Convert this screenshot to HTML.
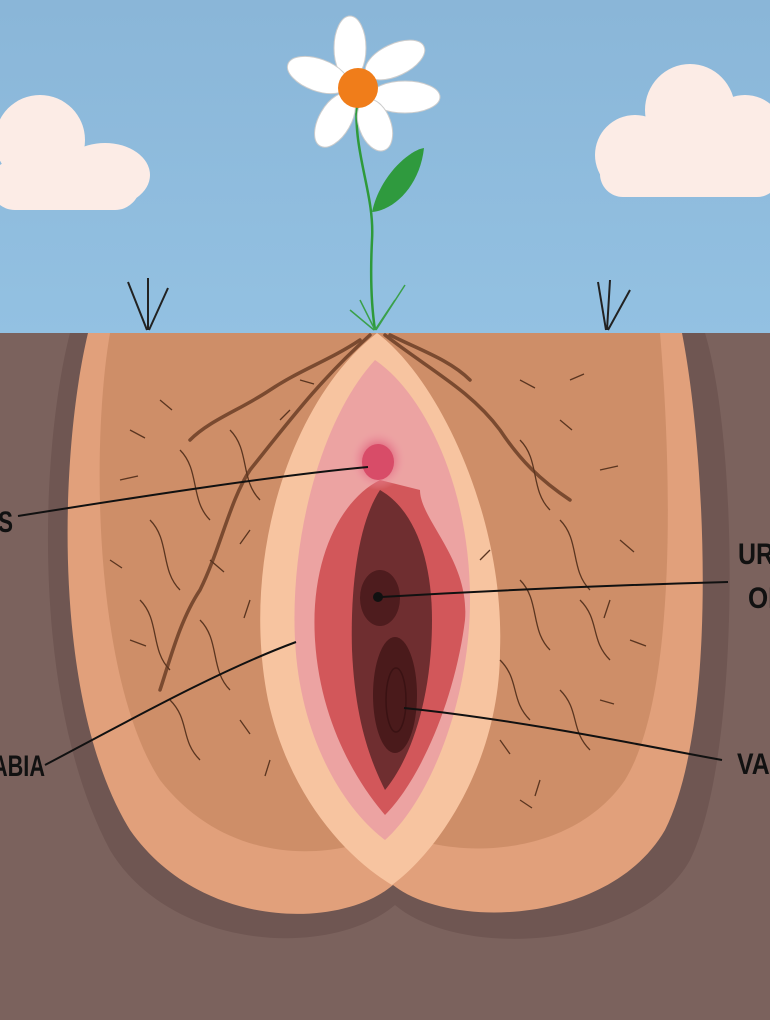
<!DOCTYPE html>
<html><head><meta charset="utf-8"><style>html,body{margin:0;padding:0;width:770px;height:1020px;overflow:hidden}svg{display:block}</style></head><body>
<svg width="770" height="1020" viewBox="0 0 770 1020" xmlns="http://www.w3.org/2000/svg">
<defs>
<linearGradient id="sky" x1="0" y1="0" x2="0" y2="1"><stop offset="0" stop-color="#8ab6d8"/><stop offset="1" stop-color="#93c1e2"/></linearGradient>
<radialGradient id="clit" cx="0.5" cy="0.5" r="0.5"><stop offset="0.4" stop-color="#e0607a"/><stop offset="1" stop-color="#eea0a8" stop-opacity="0"/></radialGradient>
</defs>
<rect width="770" height="335" fill="url(#sky)"/>
<rect y="333" width="770" height="687" fill="#7b625d"/>
<g fill="#fcece6"><ellipse cx="40" cy="140" rx="45" ry="45"/><ellipse cx="105" cy="175" rx="45" ry="32"/><rect x="-10" y="160" width="150" height="50" rx="25"/></g>
<g fill="#fcece6"><ellipse cx="690" cy="110" rx="45" ry="46"/><ellipse cx="635" cy="155" rx="40" ry="40"/><ellipse cx="745" cy="135" rx="40" ry="40"/><rect x="600" y="150" width="180" height="47" rx="23"/></g>
<g stroke="#222" stroke-width="2" fill="none"><path d="M147 330 L128 282 M148 330 L148 278 M149 330 L168 288"/><path d="M606 330 L598 282 M607 330 L610 280 M608 330 L630 290"/></g>
<path d="M70 333 C40 450 30 700 110 850 C170 950 330 960 395 905 C460 960 640 950 690 860 C740 760 740 450 705 333 Z" fill="#6f5652"/>
<path d="M88 333 C60 450 50 700 130 830 C200 930 340 930 393 885 C450 930 610 925 665 830 C720 720 705 450 682 333 Z" fill="#e1a07b"/>
<path d="M110 333 C90 450 95 680 160 780 C230 870 340 860 393 830 C450 860 570 860 625 780 C680 690 670 450 660 333 Z" fill="#c98a64" opacity="0.8"/>
<path d="M377 333 C290 400 240 560 268 700 C290 800 350 860 392 885 C440 850 500 760 500 650 C505 520 440 380 377 333 Z" fill="#f7c4a0"/>
<path d="M375 360 C320 420 290 540 295 640 C300 740 345 810 385 840 C430 800 470 700 470 600 C470 480 420 390 375 360 Z" fill="#eca3a2"/>
<path d="M380 480 C340 500 310 560 315 640 C320 720 355 780 385 815 C420 780 455 700 465 620 C470 560 420 520 420 490 Z" fill="#d2575a"/>
<path d="M380 490 C360 520 350 580 352 650 C355 720 370 760 385 790 C410 760 432 700 432 620 C432 560 415 510 380 490 Z" fill="#6f2e30"/>
<ellipse cx="380" cy="598" rx="20" ry="28" fill="#4e1c1e"/>
<ellipse cx="395" cy="695" rx="22" ry="58" fill="#4a1a1b"/>
<ellipse cx="396" cy="700" rx="10" ry="32" fill="none" stroke="#3a1213" stroke-width="1.5"/>
<circle cx="378" cy="597" r="5" fill="#111"/>
<ellipse cx="378" cy="460" rx="28" ry="30" fill="url(#clit)"/>
<ellipse cx="378" cy="462" rx="16" ry="18" fill="#d84c68"/>
<g stroke="#7a4a30" stroke-width="3.5" fill="none" stroke-linecap="round">
<path d="M370 335 C320 380 290 420 250 470 C230 500 220 550 200 590 C180 620 170 660 160 690"/>
<path d="M360 340 C330 360 300 370 270 390 C240 410 210 420 190 440"/>
<path d="M385 335 C430 370 470 390 500 430 C520 460 540 480 570 500"/>
<path d="M390 335 C420 350 450 360 470 380"/>
</g>
<g stroke="#5a3520" stroke-width="1.3" fill="none">
<path d="M180 450 C200 470 190 500 210 520 M150 520 C170 540 160 570 180 590 M140 600 C160 620 150 650 170 670 M230 430 C250 450 240 480 260 500 M200 620 C220 640 210 670 230 690 M170 700 C190 720 180 740 200 760"/>
<path d="M520 440 C540 460 530 490 550 510 M560 520 C580 540 570 570 590 590 M520 580 C540 600 530 630 550 650 M580 600 C600 620 590 640 610 660 M500 660 C520 680 510 700 530 720 M560 690 C580 710 570 730 590 750"/>
<path d="M130 430 l15 8 M160 400 l12 10 M120 480 l18 -4 M210 560 l14 12 M250 600 l-6 18 M240 720 l10 14 M270 760 l-5 16 M130 640 l16 6 M280 420 l10 -10 M300 380 l14 4 M110 560 l12 8 M250 530 l-10 14"/>
<path d="M520 380 l15 8 M560 420 l12 10 M600 470 l18 -4 M620 540 l14 12 M610 600 l-6 18 M500 740 l10 14 M540 780 l-5 16 M630 640 l16 6 M480 560 l10 -10 M600 700 l14 4 M520 800 l12 8 M570 380 l14 -6"/>
</g>
<path d="M358 90 C350 150 375 190 372 240 C370 280 372 310 375 330" stroke="#2e9a3a" stroke-width="2.5" fill="none"/>
<path d="M372 212 C380 175 410 150 424 148 C420 185 395 210 372 212 Z" fill="#2f9a3e"/>
<g stroke="#3aa04a" stroke-width="1.5" fill="none"><path d="M375 330 L360 300 M375 330 L395 300 M376 330 L405 285 M374 330 L350 310"/></g>
<g fill="#ffffff" stroke="#ccc" stroke-width="1">
<ellipse cx="350" cy="48" rx="16" ry="32"/><ellipse cx="395" cy="60" rx="32" ry="16" transform="rotate(-25 395 60)"/>
<ellipse cx="405" cy="97" rx="35" ry="16"/><ellipse cx="375" cy="125" rx="16" ry="27" transform="rotate(-20 375 125)"/>
<ellipse cx="335" cy="120" rx="16" ry="30" transform="rotate(30 335 120)"/><ellipse cx="318" cy="75" rx="32" ry="16" transform="rotate(20 318 75)"/>
</g>
<circle cx="358" cy="88" r="20" fill="#f07d1a"/>
<g stroke="#111" stroke-width="2" fill="none">
<path d="M18 516 C150 495 280 475 368 467"/>
<path d="M380 597 C500 590 620 585 728 582"/>
<path d="M45 765 C130 720 220 670 296 642"/>
<path d="M404 708 C520 720 640 745 722 760"/>
</g>
<g font-family="'Liberation Sans',sans-serif" font-weight="bold" font-size="30" fill="#111" lengthAdjust="spacingAndGlyphs">
<text x="-2" y="532" textLength="15" lengthAdjust="spacingAndGlyphs">S</text>
<text x="-8" y="776" textLength="53" lengthAdjust="spacingAndGlyphs">ABIA</text>
<text x="738" y="564" textLength="36" lengthAdjust="spacingAndGlyphs">UR</text>
<text x="748" y="608" textLength="36" lengthAdjust="spacingAndGlyphs">OF</text>
<text x="737" y="774" textLength="52" lengthAdjust="spacingAndGlyphs">VAG</text>
</g>
</svg>
</body></html>
